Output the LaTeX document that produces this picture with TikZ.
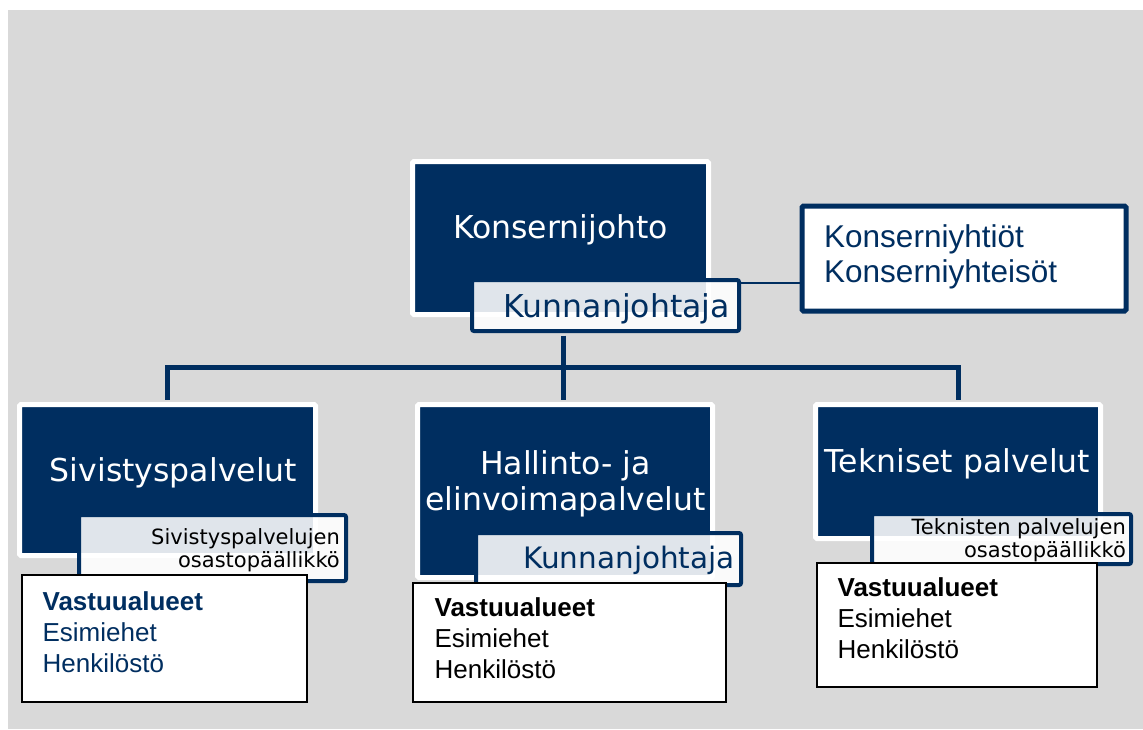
\documentclass[tikz,border=0pt]{standalone}
\usepackage{fontspec}
\setmainfont{DejaVu Sans}
\newfontfamily\arialfont{Liberation Sans}
\definecolor{navy}{RGB}{0,46,96}
\definecolor{bggray}{RGB}{217,217,217}
\tikzset{
  unitbox/.style={draw=white, line width=5pt, fill=navy, rounded corners=1.5pt, inner sep=0pt},
  headbox/.style={draw=navy, line width=4pt, fill=white, fill opacity=0.88, rounded corners=2pt, inner sep=0pt},
  areabox/.style={draw=black, line width=1.2pt, fill=white, inner sep=0pt},
  unittext/.style={text=white, font=\fontsize{31.5}{36}\selectfont, align=center, inner sep=0pt},
  headtext/.style={font=\fontsize{21}{23}\selectfont, align=right, inner sep=0pt},
  areatext/.style={font=\arialfont\fontsize{26}{31}\selectfont, align=left, inner sep=0pt, anchor=base west},
  treelink/.style={draw=navy, line width=5pt, shorten <=2.5pt, shorten >=2.5pt},
  sidelink/.style={draw=navy, line width=2pt},
}
\begin{document}
\begin{tikzpicture}[x=1pt,y=-1pt]
\useasboundingbox (0,0) rectangle (1143,729);
\fill[bggray] (8,10) rectangle (1143,729);

% top level
\node[unitbox, minimum width=296, minimum height=153] (konserni) at (560.5,238) {};
\node[unittext, anchor=base] (konserni-t) at (560.5,238) {Konsernijohto};
\node[headbox, minimum width=267, minimum height=51] (kj) at (605.5,305.5) {};
\node[headtext, text=navy, font=\fontsize{31.5}{36}\selectfont, anchor=base east] (kj-t) at (730,317) {Kunnanjohtaja};

% side box
\node[draw=navy, line width=5pt, fill=white, rounded corners=1.5pt, minimum width=324, minimum height=105] (yht) at (964,258.5) {};
\node[text=navy, font=\arialfont\fontsize{31.5}{34.5}\selectfont, align=left, inner sep=0pt, anchor=base west] (yht-t) at (824,282) {Konserniyhtiöt\\Konserniyhteisöt};
\coordinate (kjout) at ([yshift=-5pt]kj.north east);
\draw[sidelink] (kjout) -- (kjout -| yht.west);

% units
\node[unitbox, minimum width=296, minimum height=151] (sivi) at (167.5,480) {};
\node[unitbox, minimum width=295, minimum height=173] (hall) at (565,491) {};
\node[unitbox, minimum width=285, minimum height=134] (tekn) at (958,471.5) {};
\node[unittext, anchor=base] (sivi-t) at (173.5,481) {Sivistyspalvelut};
\node[unittext, anchor=base] (hall-t) at (565.5,510) {Hallinto- ja\\elinvoimapalvelut};
\node[unittext, anchor=base] (tekn-t) at (957.5,472) {Tekniset palvelut};

% tree
\coordinate (bus) at (563,367.5);
\draw[treelink] (kj.south -| bus) -- (bus) -- (bus |- hall.north);
\draw[treelink] (sivi.north) |- (bus) -| (tekn.north);

% heads of units
\node[headbox, minimum width=267, minimum height=66] (sivihead) at (212.5,548) {};
\node[headtext, anchor=base east] (sivihead-t) at (340,567) {Sivistyspalvelujen\\osastopäällikkö};
\node[headbox, minimum width=265, minimum height=52] (hallkj) at (608.5,559) {};
\node[headtext, text=navy, font=\fontsize{29.5}{34}\selectfont, anchor=base east] (hallkj-t) at (735,568) {Kunnanjohtaja};
\node[headbox, minimum width=259, minimum height=50] (teknhead) at (1001.5,539) {};
\node[headtext, anchor=base east] (teknhead-t) at (1126,557) {Teknisten palvelujen\\osastopäällikkö};

% areas
\node[areabox, minimum width=285, minimum height=127] (sivivast) at (164.5,638.5) {};
\node[areabox, minimum width=313, minimum height=119] (hallvast) at (569.5,642.5) {};
\node[areabox, minimum width=280, minimum height=124] (teknvast) at (957,625) {};
\node[areatext, text=navy] (sivivast-t) at ([shift={(21,98)}]sivivast.north west) {\textbf{Vastuualueet}\\Esimiehet\\Henkilöstö};
\node[areatext] (hallvast-t) at ([shift={(22,96)}]hallvast.north west) {\textbf{Vastuualueet}\\Esimiehet\\Henkilöstö};
\node[areatext] (teknvast-t) at ([shift={(21,96)}]teknvast.north west) {\textbf{Vastuualueet}\\Esimiehet\\Henkilöstö};
\end{tikzpicture}
\end{document}
